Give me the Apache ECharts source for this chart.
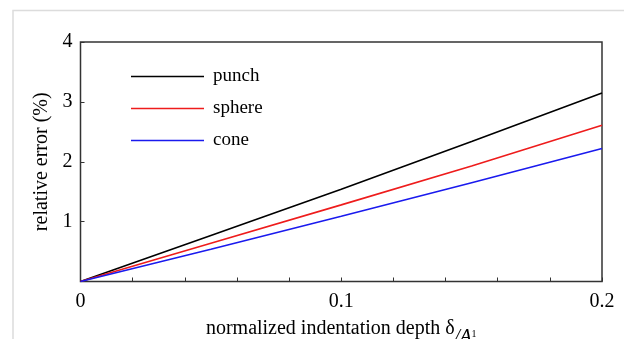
<!DOCTYPE html>
<html>
<head>
<meta charset="utf-8">
<script src="https://cdn.jsdelivr.net/npm/echarts@6/dist/echarts.min.js"></script>
<style>
html,body{margin:0;padding:0;background:#fff;}
#c{width:624px;height:339px;}
</style>
</head>
<body>
<div id="c"></div>
<script>
var xValues = [0, 0.05, 0.1, 0.15, 0.2];
var punch = [0, 0.77, 1.54, 2.34, 3.15];
var sphere = [0, 0.64, 1.28, 1.93, 2.61];
var cone = [0, 0.54, 1.09, 1.65, 2.22];
var seriesNames = ['punch', 'sphere', 'cone'];
var seriesColors = ['#000000', '#ee1c1c', '#1a1aee'];
var yTickLabels = ['', '1', '2', '3', '4'];
var xTickLabels = {0: '0', 0.1: '0.1', 0.2: '0.2'};

function pairs(ys){ return xValues.map(function(x,i){ return [x, ys[i]]; }); }

var font = '"Liberation Serif", "Times New Roman", serif';
var chart = echarts.init(document.getElementById('c'), null, {renderer:'canvas'});
var allData = [punch, sphere, cone];
chart.setOption({
  animation: false,
  backgroundColor: '#fff',
  graphic: [{
    type: 'polyline', silent: true,
    shape: {points: [[13, 339], [13, 10.5], [624, 10.5]]},
    style: {stroke: '#dcdcdc', lineWidth: 1.5, fill: null}
  }],
  grid: {left: 80.5, right: 22, top: 42, bottom: 57.5, show: true, borderColor: '#333', borderWidth: 1.5, backgroundColor: 'transparent', containLabel: false, outerBoundsMode: 'none'},
  legend: {
    orient: 'vertical', left: 131, top: 67, padding: 0, itemWidth: 73, itemHeight: 1.5, itemGap: 13,
    icon: 'rect',
    textStyle: {fontFamily: font, fontSize: 19, color: '#000', padding: [0,0,0,4]},
    data: seriesNames
  },
  xAxis: {
    type: 'value', min: 0, max: 0.2, interval: 0.02,
    axisLine: {show: false},
    axisTick: {show: true, inside: true, length: 4, lineStyle: {color: '#333', width: 1}},
    splitLine: {show: false},
    axisLabel: {
      fontFamily: font, fontSize: 20, color: '#000', margin: 10,
      formatter: function(v){ var k = Math.round(v*100)/100; return xTickLabels[k] !== undefined ? xTickLabels[k] : ''; }
    },
    name: '{t|normalized indentation depth δ}{s|/A}{u|1}',
    nameLocation: 'middle', nameGap: 37,
    nameTextStyle: {
      rich: {
        t: {fontFamily: font, fontSize: 20, color: '#000'},
        s: {fontFamily: font, fontSize: 19, fontStyle: 'italic', color: '#000', verticalAlign: 'bottom', padding: [0,0,-8,0]},
        u: {fontFamily: font, fontSize: 10, color: '#000', padding: [0,0,-12,0]}
      }
    }
  },
  yAxis: {
    type: 'value', min: 0, max: 4, interval: 1,
    axisLine: {show: false},
    axisTick: {show: true, inside: true, length: 4, lineStyle: {color: '#333', width: 1}},
    splitLine: {show: false},
    axisLabel: {
      fontFamily: font, fontSize: 20, color: '#000', margin: 8,
      formatter: function(v){ return yTickLabels[Math.round(v)]; }
    },
    name: 'relative error (%)',
    nameLocation: 'middle', nameGap: 26,
    nameTextStyle: {fontFamily: font, fontSize: 20, color: '#000'}
  },
  series: seriesNames.map(function(n, i){
    return {
      name: n, type: 'line', showSymbol: false, symbol: 'none',
      data: pairs(allData[i]),
      lineStyle: {color: seriesColors[i], width: 1.6},
      itemStyle: {color: seriesColors[i]}
    };
  })
});
</script>
</body>
</html>
